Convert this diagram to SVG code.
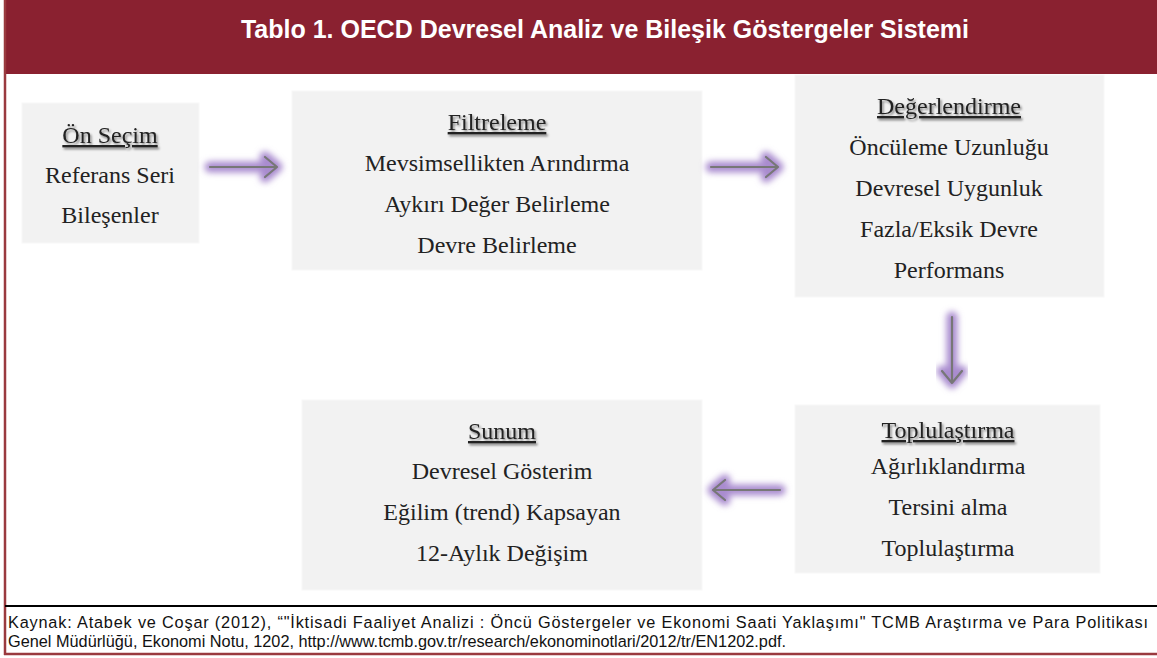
<svg xmlns="http://www.w3.org/2000/svg" width="1157" height="658" viewBox="0 0 1157 658">
<defs>
<style>
.box{fill:#f2f2f2;stroke:#f8f8f8;stroke-width:1}
.t{font-family:"Liberation Serif","Times New Roman",serif;font-size:24px;fill:#222;text-anchor:middle}
.h{text-decoration:underline;filter:url(#sh)}
.glow{stroke:#a98bcf;stroke-width:11;fill:none;stroke-linecap:round;stroke-linejoin:round;filter:url(#bl)}
.ln{stroke:#777;stroke-width:2.2;fill:none;stroke-linecap:round;stroke-linejoin:round}
.foot{font-family:"Liberation Sans",Arial,sans-serif;font-size:16.3px;fill:#111}
</style>
<filter id="bl" x="-30%" y="-100%" width="160%" height="300%"><feGaussianBlur stdDeviation="3"/></filter>
<filter id="sh" x="-10%" y="-30%" width="120%" height="160%"><feDropShadow dx="1.5" dy="2" stdDeviation="1" flood-color="#000" flood-opacity="0.45"/></filter>
</defs>
<rect x="0" y="0" width="1157" height="658" fill="#fff"/>
<rect x="4" y="0" width="1153" height="74" fill="#8a2130"/>
<line x1="5" y1="0" x2="5" y2="655" stroke="#9a3a3f" stroke-width="2.5"/>
<line x1="4" y1="654" x2="1157" y2="654" stroke="#9a3a3f" stroke-width="2.5"/>
<line x1="5" y1="606" x2="1157" y2="606" stroke="#000" stroke-width="2"/>
<text x="605" y="38" font-family="'Liberation Sans',Arial,sans-serif" font-size="25" font-weight="bold" fill="#fff" text-anchor="middle">Tablo 1. OECD Devresel Analiz ve Bileşik Göstergeler Sistemi</text>

<g id="n1">
<rect class="box" x="22" y="103" width="177" height="140"/>
<text class="t h" x="110" y="143">Ön Seçim</text>
<text class="t" x="110" y="183">Referans Seri</text>
<text class="t" x="110" y="223">Bileşenler</text>
</g>
<g id="n2">
<rect class="box" x="292" y="91" width="410" height="179"/>
<text class="t h" x="497" y="130">Filtreleme</text>
<text class="t" x="497" y="171">Mevsimsellikten Arındırma</text>
<text class="t" x="497" y="212">Aykırı Değer Belirleme</text>
<text class="t" x="497" y="253">Devre Belirleme</text>
</g>
<g id="n3">
<rect class="box" x="795" y="75" width="309" height="222"/>
<text class="t h" x="949" y="114">Değerlendirme</text>
<text class="t" x="949" y="155">Öncüleme Uzunluğu</text>
<text class="t" x="949" y="196">Devresel Uygunluk</text>
<text class="t" x="949" y="237">Fazla/Eksik Devre</text>
<text class="t" x="949" y="278">Performans</text>
</g>
<g id="n4">
<rect class="box" x="795" y="405" width="305" height="168"/>
<text class="t h" x="948" y="438">Toplulaştırma</text>
<text class="t" x="948" y="474">Ağırlıklandırma</text>
<text class="t" x="948" y="515">Tersini alma</text>
<text class="t" x="948" y="556">Toplulaştırma</text>
</g>
<g id="n5">
<rect class="box" x="302" y="400" width="400" height="190"/>
<text class="t h" x="502" y="439">Sunum</text>
<text class="t" x="502" y="479">Devresel Gösterim</text>
<text class="t" x="502" y="520">Eğilim (trend) Kapsayan</text>
<text class="t" x="502" y="561">12-Aylık Değişim</text>
</g>
<g id="connectors">
<g><path class="glow" d="M210 167 H277 M265 157 L277 167 L265 177"/><path class="ln" d="M210 167 H277 M265 157 L277 167 L265 177"/></g>
<g><path class="glow" d="M711 167 H778 M766 157 L778 167 L766 177"/><path class="ln" d="M711 167 H778 M766 157 L778 167 L766 177"/></g>
<g><path class="glow" d="M952 317 V383 M942 371 L952 383 L962 371"/><path class="ln" d="M952 317 V383 M942 371 L952 383 L962 371"/></g>
<g><path class="glow" d="M780 490 H713 M725 480 L713 490 L725 500"/><path class="ln" d="M780 490 H713 M725 480 L713 490 L725 500"/></g>
</g>
<text class="foot" x="8" y="628" textLength="1140" lengthAdjust="spacing">Kaynak: Atabek ve Coşar (2012), “"İktisadi Faaliyet Analizi : Öncü Göstergeler ve Ekonomi Saati Yaklaşımı" TCMB Araştırma ve Para Politikası</text>
<text class="foot" x="8" y="647">Genel Müdürlüğü, Ekonomi Notu, 1202, http://www.tcmb.gov.tr/research/ekonominotlari/2012/tr/EN1202.pdf.</text>
</svg>
